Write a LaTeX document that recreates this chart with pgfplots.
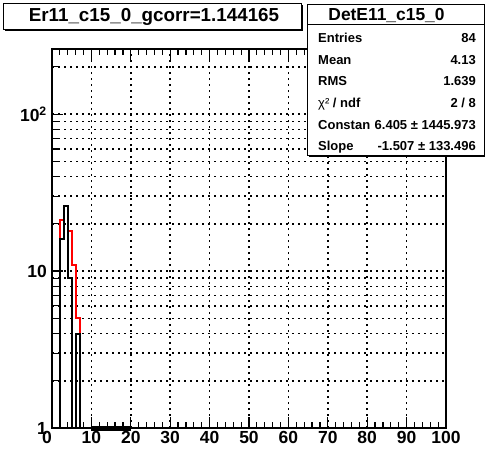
\documentclass[border=0pt]{standalone}
\usepackage{fontspec}
\setmainfont{Liberation Sans}
\usepackage{pgfplots}
\pgfplotsset{compat=1.18}
\begin{document}
\begin{tikzpicture}[x=1pt,y=1pt]
\path[use as bounding box] (0,0) rectangle (485,451);
\begin{axis}[
  at={(52pt,23pt)}, anchor=south west,
  scale only axis, width=394pt, height=379pt,
  xmin=0, xmax=100, ymode=log, ymin=1, ymax=260,
  clip=false,
  axis line style={line width=1.6pt, black},
  xtick={0,10,...,100},
  xticklabels={0\kern10pt,10,20,30,40,50,60,70,80,90,100},
  minor x tick num=4,
  ytick={1,10,100},
  yticklabels={1,10,10\textsuperscript{2}},
  minor ytick={2,3,4,5,6,7,8,9,20,30,40,50,60,70,80,90,200},
  ytick pos=left, xtick pos=both,
  tick align=inside,
  major tick length=11pt, minor tick length=6pt,
  tick style={line width=1.2pt, black},
  xmajorgrids, ymajorgrids, yminorgrids,
  major grid style={black, line width=1.5pt, dash pattern=on 1.6pt off 4.4pt},
  minor grid style={black, line width=1.5pt, dash pattern=on 1.6pt off 4.4pt},
  xticklabel style={font=\bfseries\fontsize{17.5}{17.5}\selectfont, anchor=north, inner sep=0pt, yshift=-3pt},
  yticklabel style={font=\bfseries\fontsize{17.5}{17.5}\selectfont, anchor=east, inner sep=0pt, xshift=-5pt},
]
\addplot[red, line width=2pt, const plot] coordinates {(2,1)(2,21)(3,26)(4,18)(5,11)(6,5)(7,1)};
\addplot[black, line width=2pt, const plot] coordinates {(2,1)(2,16)(3,26)(4,9)(5,1)(6,4)(7,1)};
\addplot[black, line width=5pt] coordinates {(10,1)(20,1)};
\end{axis}
% title box
\fill[black] (4.5,451-31.5) rectangle (302.5,451-5.5);
\draw[fill=white, line width=1pt] (3,451-30) rectangle (301,451-4);
\node[font=\bfseries\fontsize{18.8}{18.8}\selectfont] at (154,451-17) {Er11\_c15\_0\_gcorr=1.144165};
% stats box
\fill[black] (308.5,451-156.5) rectangle (485,451-6.5);
\draw[fill=white, line width=1pt] (307,451-155) rectangle (484,451-5);
\draw[line width=1pt] (307,451-25) -- (484,451-25);
\node[font=\bfseries\fontsize{17.4}{17.4}\selectfont] at (386.5,451-15) {DetE11\_c15\_0};
\begin{scope}[every node/.style={font=\bfseries\fontsize{13}{13}\selectfont, inner sep=0pt}]
\node[anchor=base west] at (318,451-42.6) {Entries};
\node[anchor=base east] at (476,451-42.6) {84};
\node[anchor=base west] at (318,451-64.2) {Mean};
\node[anchor=base east] at (476,451-64.2) {4.13};
\node[anchor=base west] at (318,451-85.8) {RMS};
\node[anchor=base east] at (476,451-85.8) {1.639};
\node[anchor=base west] at (318,451-107.4) {{\mdseries χ²} / ndf};
\node[anchor=base east] at (476,451-107.4) {2 / 8};
\node[anchor=base west] at (318,451-129) {Constan};
\node[anchor=base east] at (476,451-129) {6.405 ± 1445.973};
\node[anchor=base west] at (318,451-150.6) {Slope};
\node[anchor=base east] at (476,451-150.6) {-1.507 ± 133.496};
\end{scope}
\end{tikzpicture}
\end{document}
